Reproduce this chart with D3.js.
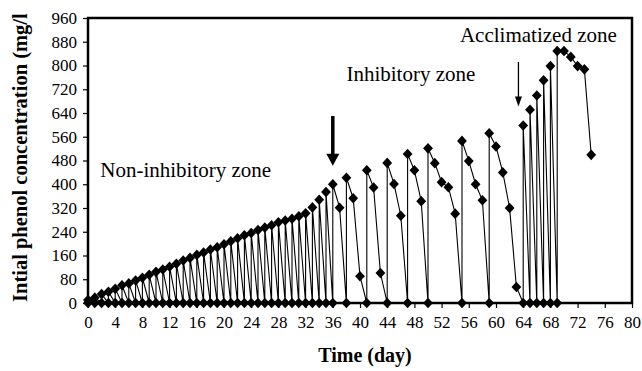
<!DOCTYPE html>
<html>
<head>
<meta charset="utf-8">
<script src="https://cdn.jsdelivr.net/npm/d3@7"></script>
<style>
  html, body { margin: 0; padding: 0; background: #fff; }
  svg { display: block; }
  text { font-family: "Liberation Serif", "Times New Roman", serif; fill: #000; }
</style>
</head>
<body>
<svg id="chart" width="642" height="371"></svg>
<script>
// Daily feeding ramp (non-inhibitory zone): each day the reactor is emptied (0)
// and re-fed to the listed initial concentration.
const rampDays  = [0, 1, 2, 3, 4, 5, 6, 7, 8, 9, 10, 11, 12, 13, 14, 15, 16, 17, 18,
                   19, 20, 21, 22, 23, 24, 25, 26, 27, 28, 29, 30, 31, 32, 33, 34, 35, 36];
const rampPeaks = [10, 18, 30, 38, 48, 60, 66, 76, 85, 95, 105, 113, 122, 132, 143, 152, 162, 170, 180,
                   188, 198, 208, 218, 228, 236, 246, 254, 262, 272, 278, 284, 292, 302, 322, 348, 374, 400];

// Inhibitory and acclimatized zones: sampled concentrations in time order
// (a repeated day marks a refill from 0 to the new feed level).
const laterDays = [37, 38, 38, 39, 40, 41, 41, 42, 43, 44, 44, 45, 46, 47, 47, 48, 49,
                   50, 50, 51, 52, 53, 54, 55, 55, 56, 57, 58, 59, 59, 60, 61, 62, 63,
                   64, 64, 65, 65, 66, 66, 67, 67, 68, 68, 69, 69, 70, 71, 72, 73, 74];
const laterConc = [321, 0, 422, 353, 90, 0, 447, 389, 101, 0, 472, 401, 294, 0, 502, 447, 343,
                   0, 521, 471, 407, 390, 301, 0, 546, 478, 400, 346, 0, 572, 527, 440, 320, 54,
                   0, 598, 0, 651, 0, 699, 0, 750, 0, 798, 0, 849, 849, 829, 798, 787, 499];

const xTicks = d3.range(0, 81, 4);
const yTicks = d3.range(0, 961, 80);

const zoneLabels = [
  { text: "Non-inhibitory zone", day: 1.8, value: 425 },
  { text: "Inhibitory zone",     day: 38.0, value: 748 },
  { text: "Acclimatized zone",   day: 54.7, value: 880 }
];
const arrows = [
  { day: 36,   from: 630, to: 462, heavy: true },
  { day: 63.3, from: 812, to: 662, heavy: false }
];

// Build the ordered point list
const points = [];
rampDays.forEach((d, i) => { points.push([d, 0]); points.push([d, rampPeaks[i]]); });
laterDays.forEach((d, i) => points.push([d, laterConc[i]]));

const W = 642, H = 371;
const margin = { left: 88, right: 10, top: 18, bottom: 68 };
const svg = d3.select("#chart");

const x = d3.scaleLinear().domain([0, 80]).range([margin.left, W - margin.right]);
const y = d3.scaleLinear().domain([0, 960]).range([H - margin.bottom, margin.top]);

// Axes
const xAxis = svg.append("g")
  .attr("transform", `translate(0,${y(0)})`)
  .call(d3.axisBottom(x).tickValues(xTicks).tickSize(5).tickSizeOuter(0).tickPadding(8));
const yAxis = svg.append("g")
  .attr("transform", `translate(${x(0)},0)`)
  .call(d3.axisLeft(y).tickValues(yTicks).tickSize(5).tickSizeOuter(0).tickPadding(6));
[xAxis, yAxis].forEach(g => {
  g.select(".domain").remove();
  g.selectAll(".tick line").attr("stroke", "#000").attr("stroke-width", 1.2);
  g.selectAll(".tick text").style("font-size", "17px").style("font-family", "Liberation Serif");
});

// Series line
svg.append("path")
  .datum(points)
  .attr("fill", "none")
  .attr("stroke", "#000")
  .attr("stroke-width", 1.1)
  .attr("d", d3.line().x(d => x(d[0])).y(d => y(d[1])));

// Diamond markers
const diamond = "M0,-5.3L4.9,0L0,5.3L-4.9,0Z";
svg.append("g").selectAll("path")
  .data(points)
  .join("path")
  .attr("d", diamond)
  .attr("fill", "#000")
  .attr("transform", d => `translate(${x(d[0])},${y(d[1])})`);

// Plot frame
svg.append("rect")
  .attr("x", x(0)).attr("y", y(960))
  .attr("width", x(80) - x(0)).attr("height", y(0) - y(960))
  .attr("fill", "none").attr("stroke", "#000").attr("stroke-width", 2.5);

// Zone labels
svg.append("g").selectAll("text")
  .data(zoneLabels)
  .join("text")
  .attr("x", d => x(d.day))
  .attr("y", d => y(d.value))
  .style("font-size", "21px")
  .text(d => d.text);

// Arrows
arrows.forEach(a => {
  const ax = x(a.day), y0 = y(a.from), y1 = y(a.to);
  const headLen = a.heavy ? 12 : 10, headHalf = a.heavy ? 6.5 : 3.5;
  svg.append("line")
    .attr("x1", ax).attr("x2", ax).attr("y1", y0).attr("y2", y1 - headLen + 1)
    .attr("stroke", "#000").attr("stroke-width", a.heavy ? 3.5 : 1.3);
  svg.append("path")
    .attr("d", `M${ax - headHalf},${y1 - headLen}L${ax + headHalf},${y1 - headLen}L${ax},${y1}Z`)
    .attr("fill", "#000");
});

// Axis titles
svg.append("text")
  .attr("x", (x(0) + x(80)) / 2 + 5)
  .attr("y", 362)
  .attr("text-anchor", "middle")
  .style("font-size", "20px").style("font-weight", "bold")
  .text("Time (day)");
svg.append("text")
  .attr("transform", `translate(27,${(y(0) - 1)}) rotate(-90)`)
  .attr("text-anchor", "start")
  .style("font-size", "20.5px").style("font-weight", "bold")
  .text("Intial phenol concentration (mg/l");
</script>
</body>
</html>
